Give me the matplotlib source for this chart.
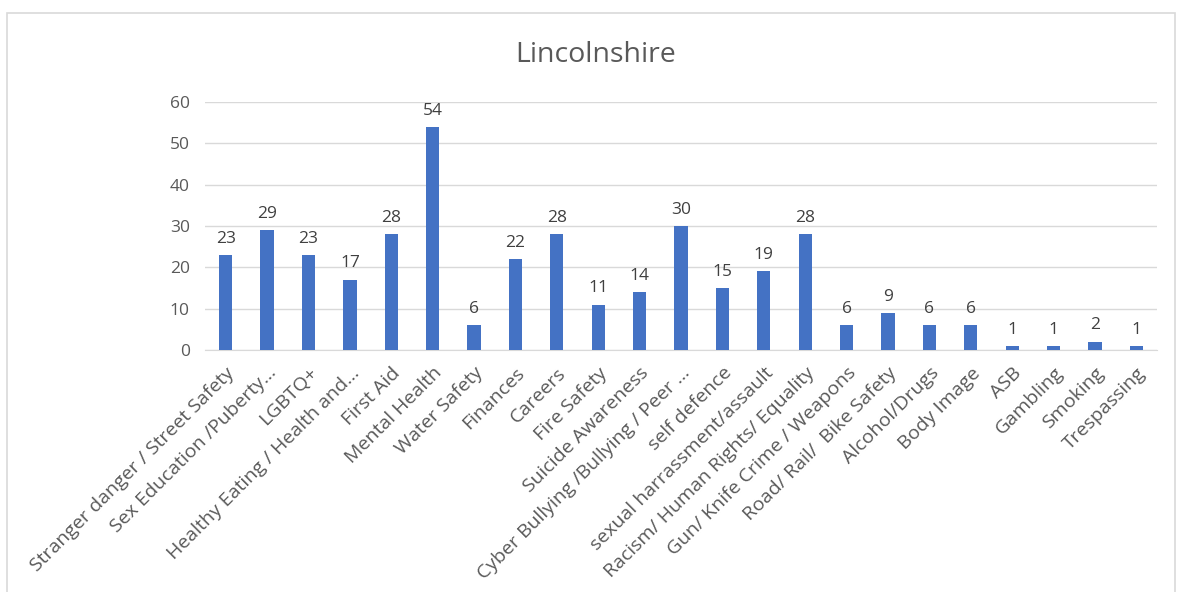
import matplotlib.pyplot as plt
from matplotlib.patches import Rectangle

# topics and counts
topics = ["Stranger danger / Street Safety", "Sex Education /Puberty...", "LGBTQ+",
          "Healthy Eating / Health and...", "First Aid", "Mental Health", "Water Safety",
          "Finances", "Careers", "Fire Safety", "Suicide Awareness",
          "Cyber Bullying /Bullying / Peer ...", "self defence", "sexual harrassment/assault",
          "Racism/ Human Rights/ Equality", "Gun/ Knife Crime / Weapons", "Road/ Rail/  Bike Safety",
          "Alcohol/Drugs", "Body Image", "ASB", "Gambling", "Smoking", "Trespassing"]
counts = [23, 29, 23, 17, 28, 54, 6, 22, 28, 11, 14, 30, 15, 19, 28, 6, 9, 6, 6, 1, 1, 2, 1]
yticks = [0, 10, 20, 30, 40, 50, 60]

plt.rcParams['font.family'] = ['Open Sans', 'DejaVu Sans']
grey = '#595959'

fig = plt.figure(figsize=(11.79, 5.92), dpi=100)
ax = fig.add_axes([0.1739, 0.4088, 0.8075, 0.4189])

x = range(len(topics))
bars = ax.bar(x, counts, width=0.32, color='#4472C4', zorder=3)
for xi, v in zip(x, counts):
    ax.text(xi, v + 2.0, str(v), ha='center', va='bottom', fontsize=12.5, color='#404040')

ax.set_xlim(-0.5, len(topics) - 0.5)
ax.set_ylim(0, 60)
ax.set_yticks(yticks)
ax.set_yticklabels([str(t) for t in yticks], fontsize=12.5, color=grey)
ax.set_xticks(list(x))
ax.set_xticklabels(topics, rotation=45, ha='right', va='top', rotation_mode='anchor',
                   fontsize=14, color=grey)
ax.tick_params(axis='both', length=0)
ax.tick_params(axis='y', pad=11)
ax.tick_params(axis='x', pad=10)
ax.grid(axis='y', color='#d9d9d9', linewidth=1, zorder=0)
for s in ['top', 'right', 'left']:
    ax.spines[s].set_visible(False)
ax.spines['bottom'].set_color('#d9d9d9')

fig.text(0.5055, 0.907, "Lincolnshire", ha='center', va='center', fontsize=20.5, color=grey)

fig.patches.append(Rectangle((0.006, -0.05), 0.991, 1.028, transform=fig.transFigure,
                             fill=False, edgecolor='#d9d9d9', linewidth=1.2))

fig.savefig('out.png', dpi=100)
